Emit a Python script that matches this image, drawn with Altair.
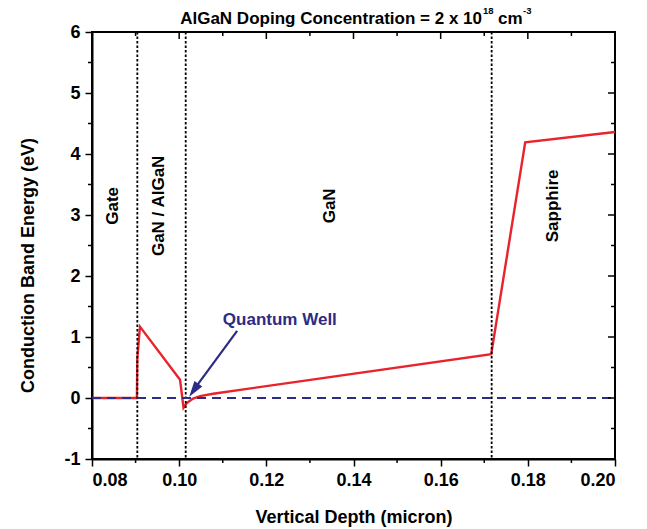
import altair as alt
import pandas as pd

# Conduction band profile
depth = [0.0800, 0.0903, 0.0904, 0.0910, 0.1002, 0.1010, 0.1018, 0.1032,
         0.1048, 0.1078, 0.1716, 0.1794, 0.2000]
energy = [0.00, 0.00, 0.65, 1.17, 0.30, -0.16, -0.08, -0.01,
          0.03, 0.07, 0.72, 4.19, 4.36]

# layer boundaries (dotted verticals)
boundaries = [0.0904, 0.1015, 0.1717]

# region labels
region_names = ["Gate", "GaN / AlGaN", "GaN", "Sapphire"]
region_x = [0.0848, 0.0954, 0.1346, 0.1858]
region_y = [3.15, 3.15, 3.15, 3.15]

# quantum well annotation
qw_label = ["Quantum Well"]
qw_x = [0.1231]
qw_y = [1.28]
arrow_x = [0.1133, 0.1030]
arrow_y = [1.10, 0.10]
head_x = [0.1023]
head_y = [0.02]

# axis ticks
x_major = [0.08, 0.10, 0.12, 0.14, 0.16, 0.18, 0.20]
x_minor = [0.09, 0.11, 0.13, 0.15, 0.17, 0.19]
y_major = [-1, 0, 1, 2, 3, 4, 5, 6]
y_minor = [-0.5, 0.5, 1.5, 2.5, 3.5, 4.5, 5.5]

FONT = "Liberation Sans"
RED = "#e8232b"
NAVY = "#2c2b85"
W, H = 523, 427

xs = alt.Scale(domain=[0.08, 0.20], nice=False, zero=False)
ys = alt.Scale(domain=[-1, 6], nice=False, zero=False)

curve_df = pd.DataFrame({"depth": depth, "energy": energy, "i": range(len(depth))})
bound_df = pd.DataFrame({"b": boundaries})
region_df = pd.DataFrame({"name": region_names, "x": region_x, "y": region_y})
qw_df = pd.DataFrame({"t": qw_label, "x": qw_x, "y": qw_y})
arrow_df = pd.DataFrame({"x": arrow_x, "y": arrow_y})
head_df = pd.DataFrame({"x": head_x, "y": head_y})
xmaj_df = pd.DataFrame({"v": x_major})
xmin_df = pd.DataFrame({"v": x_minor})
ymaj_df = pd.DataFrame({"v": y_major})
ymin_df = pd.DataFrame({"v": y_minor})
zero_df = pd.DataFrame({"x": [0.08, 0.20], "y": [0, 0]})

curve = alt.Chart(curve_df).mark_line(color=RED, strokeWidth=2.4).encode(
    x=alt.X("depth:Q", scale=xs,
            axis=alt.Axis(values=x_major, format=".2f", title="Vertical Depth (micron)",
                          tickSize=7, labelPadding=5, titleY=63,
                          titleBaseline="alphabetic")),
    y=alt.Y("energy:Q", scale=ys,
            axis=alt.Axis(values=y_major, labelExpr="'' + datum.value",
                          title="Conduction Band Energy (eV)",
                          tickSize=7, labelPadding=5, titleAngle=270,
                          titleX=-59, titleY=233, titleBaseline="alphabetic",
                          titleAlign="center")),
    order="i:Q",
)

zero_line = alt.Chart(zero_df).mark_line(color=NAVY, strokeWidth=2,
                                         strokeDash=[9, 6]).encode(
    x=alt.X("x:Q", scale=xs, axis=None),
    y=alt.Y("y:Q", scale=ys, axis=None),
)

bounds = alt.Chart(bound_df).mark_rule(color="black", strokeWidth=1.8,
                                       strokeDash=[2.5, 2]).encode(
    x=alt.X("b:Q", scale=xs, axis=None),
)

regions = alt.Chart(region_df).mark_text(angle=270, font=FONT, fontWeight="bold",
                                         fontSize=17, color="black",
                                         align="center", baseline="middle").encode(
    x=alt.X("x:Q", scale=xs, axis=None),
    y=alt.Y("y:Q", scale=ys, axis=None),
    text="name:N",
)

qw_text = alt.Chart(qw_df).mark_text(font=FONT, fontWeight="bold", fontSize=17,
                                     color=NAVY, align="center",
                                     baseline="middle").encode(
    x=alt.X("x:Q", scale=xs, axis=None),
    y=alt.Y("y:Q", scale=ys, axis=None),
    text="t:N",
)

arrow = alt.Chart(arrow_df).mark_line(color=NAVY, strokeWidth=2.2).encode(
    x=alt.X("x:Q", scale=xs, axis=None),
    y=alt.Y("y:Q", scale=ys, axis=None),
)

head = alt.Chart(head_df).mark_point(shape="M0,0L0.6,2L-0.6,2Z", filled=True,
                                     size=256, angle=215, color=NAVY,
                                     opacity=1).encode(
    x=alt.X("x:Q", scale=xs, axis=None),
    y=alt.Y("y:Q", scale=ys, axis=None),
)

# extra ticks: bottom minor (outward), top (inward), left minor (outward), right (inward)
tk = dict(color="black", strokeWidth=1.5)
bot_minor = alt.Chart(xmin_df).mark_rule(**tk).encode(
    x=alt.X("v:Q", scale=xs, axis=None), y=alt.value(H), y2=alt.value(H + 4))
top_major = alt.Chart(xmaj_df).mark_rule(**tk).encode(
    x=alt.X("v:Q", scale=xs, axis=None), y=alt.value(0), y2=alt.value(7))
top_minor = alt.Chart(xmin_df).mark_rule(**tk).encode(
    x=alt.X("v:Q", scale=xs, axis=None), y=alt.value(0), y2=alt.value(4))
left_minor = alt.Chart(ymin_df).mark_rule(**tk).encode(
    y=alt.Y("v:Q", scale=ys, axis=None), x=alt.value(-4), x2=alt.value(0))
right_major = alt.Chart(ymaj_df).mark_rule(**tk).encode(
    y=alt.Y("v:Q", scale=ys, axis=None), x=alt.value(W - 7), x2=alt.value(W))
right_minor = alt.Chart(ymin_df).mark_rule(**tk).encode(
    y=alt.Y("v:Q", scale=ys, axis=None), x=alt.value(W - 4), x2=alt.value(W))

# title pieces (with superscripts)
tstyle = dict(font=FONT, fontWeight="bold", color="black")
t_main = alt.Chart(pd.DataFrame({"t": ["AlGaN Doping Concentration = 2 x 10"]})).mark_text(
    align="right", baseline="alphabetic", fontSize=17, **tstyle).encode(
    text="t:N", x=alt.value(390), y=alt.value(-8))
t_sup1 = alt.Chart(pd.DataFrame({"t": ["18"]})).mark_text(
    align="left", baseline="alphabetic", fontSize=9.5, **tstyle).encode(
    text="t:N", x=alt.value(391), y=alt.value(-18))
t_cm = alt.Chart(pd.DataFrame({"t": ["cm"]})).mark_text(
    align="left", baseline="alphabetic", fontSize=17, **tstyle).encode(
    text="t:N", x=alt.value(406), y=alt.value(-8))
t_sup2 = alt.Chart(pd.DataFrame({"t": ["-3"]})).mark_text(
    align="left", baseline="alphabetic", fontSize=9.5, **tstyle).encode(
    text="t:N", x=alt.value(431), y=alt.value(-18))

chart = alt.layer(
    curve, bounds, zero_line, regions, qw_text, arrow, head,
    bot_minor, top_major, top_minor, left_minor, right_major, right_minor,
    t_main, t_sup1, t_cm, t_sup2,
).resolve_axis(
    x="independent", y="independent"
).properties(
    width=W, height=H,
    autosize=alt.AutoSizeParams(type="none"),
    padding={"left": 92, "top": 32, "right": 32, "bottom": 70},
    background="white",
).configure_view(
    stroke="black", strokeWidth=2
).configure_axis(
    grid=False,
    domainColor="black", domainWidth=2,
    tickColor="black", tickWidth=1.5,
    labelFont=FONT, labelFontWeight="bold", labelFontSize=18, labelColor="black",
    titleFont=FONT, titleFontWeight="bold", titleFontSize=18, titleColor="black",
)

chart.save("out.html", embed_options={"renderer": "svg", "actions": False})
